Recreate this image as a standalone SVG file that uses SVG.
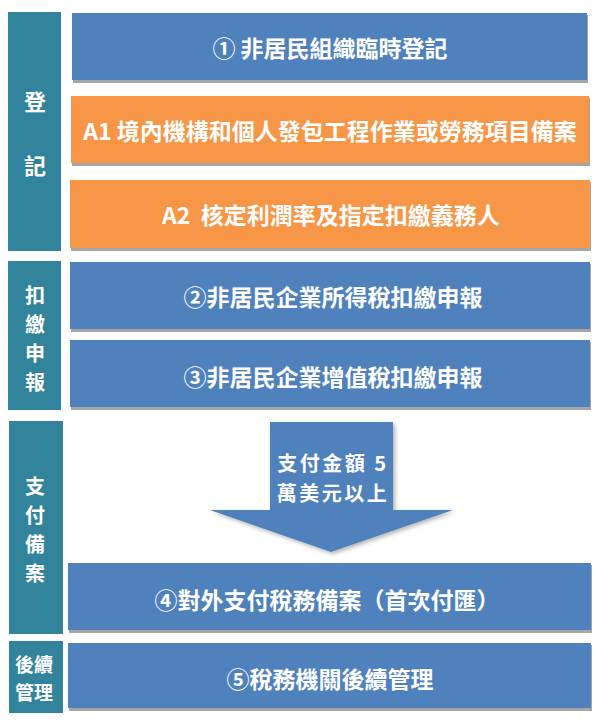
<svg xmlns="http://www.w3.org/2000/svg" width="604" height="724" viewBox="0 0 604 724">
  <defs>
    <style>
      .bg { fill: #ffffff; }
      .side { fill: #31849b; }
      .blue { fill: #4f81bd; }
      .orange { fill: #f79646; }
      .shadow { fill: #a6a6a6; }
      text { font-family: "Noto Sans CJK TC", "Noto Sans CJK SC", sans-serif; font-weight: 700; fill: #ffffff; text-anchor: middle; dominant-baseline: central; }
      .t { font-size: 23px; }
      .a { font-size: 20px; letter-spacing: 2.5px; }
      .s { font-size: 20px; }
      .s1 { font-size: 22px; }
      .s2 { font-size: 19px; }
    </style>
    <filter id="ds" x="-20%" y="-20%" width="140%" height="140%">
      <feDropShadow dx="2" dy="2" stdDeviation="2" flood-color="#000000" flood-opacity="0.3"/>
    </filter>
  </defs>
  <rect class="bg" x="0" y="0" width="604" height="724"/>

  <g id="side-register">
    <rect class="side" x="8" y="12" width="53" height="239"/>
    <text class="s1" x="35" y="100">登</text>
    <text class="s1" x="35" y="164">記</text>
  </g>
  <g id="side-withhold">
    <rect class="side" x="8" y="261" width="53" height="149"/>
    <text class="s" x="35" y="294">扣</text>
    <text class="s" x="35" y="323">繳</text>
    <text class="s" x="35" y="352">申</text>
    <text class="s" x="35" y="381">報</text>
  </g>
  <g id="side-payment">
    <rect class="side" x="9" y="421" width="54" height="213"/>
    <text class="s" x="35" y="485">支</text>
    <text class="s" x="35" y="514">付</text>
    <text class="s" x="35" y="543">備</text>
    <text class="s" x="35" y="572">案</text>
  </g>
  <g id="side-follow">
    <rect class="side" x="9" y="641" width="54" height="72"/>
    <text class="s2" x="34" y="663">後續</text>
    <text class="s2" x="34" y="691">管理</text>
  </g>

  <g id="box1">
    <rect class="shadow" x="73" y="15" width="515" height="68"/>
    <rect class="blue" x="72" y="13" width="515" height="67"/>
    <text class="t" x="330" y="47">① 非居民組織臨時登記</text>
  </g>
  <g id="boxA1">
    <rect class="shadow" x="72" y="98" width="518" height="68"/>
    <rect class="orange" x="71" y="96" width="518" height="67"/>
    <text class="t" x="330" y="130">A1 境內機構和個人發包工程作業或勞務項目備案</text>
  </g>
  <g id="boxA2">
    <rect class="shadow" x="71" y="182" width="520" height="69"/>
    <rect class="orange" x="70" y="180" width="520" height="68"/>
    <text class="t" x="331" y="214" xml:space="preserve">A2  核定利潤率及指定扣繳義務人</text>
  </g>
  <g id="box2">
    <rect class="shadow" x="71" y="264" width="520" height="68"/>
    <rect class="blue" x="70" y="262" width="520" height="67"/>
    <text class="t" x="333" y="296">②非居民企業所得稅扣繳申報</text>
  </g>
  <g id="box3">
    <rect class="shadow" x="71" y="342" width="520" height="68"/>
    <rect class="blue" x="70" y="340" width="520" height="67"/>
    <text class="t" x="333" y="376">③非居民企業增值稅扣繳申報</text>
  </g>
  <g id="box4">
    <rect class="shadow" x="69" y="565" width="523" height="68"/>
    <rect class="blue" x="68" y="563" width="523" height="67"/>
    <text class="t" x="327" y="599">④對外支付稅務備案（首次付匯）</text>
  </g>
  <g id="box5">
    <rect class="shadow" x="69" y="645" width="523" height="66"/>
    <rect class="blue" x="68" y="643" width="523" height="65"/>
    <text class="t" x="330" y="678">⑤稅務機關後續管理</text>
  </g>

  <g id="connectors">
    <g id="arrow">
      <polygon class="blue" filter="url(#ds)" points="270,422 393,422 393,510 453,510 331,552 210,510 270,510"/>
      <text class="a" x="333" y="462">支付金額 5</text>
      <text class="a" x="333" y="492">萬美元以上</text>
    </g>
  </g>
</svg>
